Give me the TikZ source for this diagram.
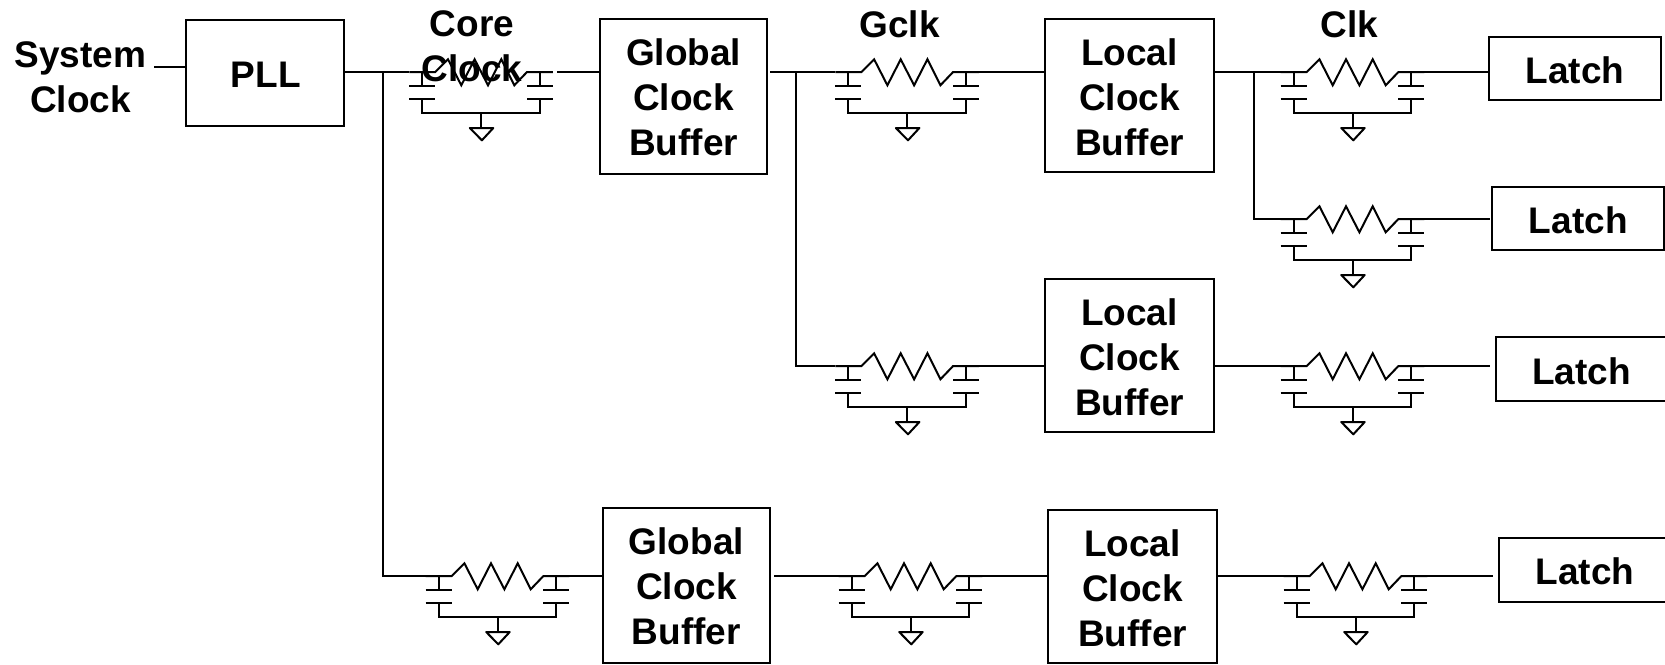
\documentclass[tikz,border=0pt]{standalone}
\usepackage{fontspec}
\setmainfont{Liberation Sans}
\tikzset{
  x=0.75pt,y=-0.75pt,
  wire/.style={line width=1.5pt,line cap=butt,line join=miter},
  thinwire/.style={line width=1pt},
  label text/.style={font=\bfseries\fontsize{27.75}{33.75}\selectfont,align=center,inner sep=0pt,outer sep=0pt},
  boxnode/.style={draw,line width=1.5pt,inner sep=0pt,outer sep=0pt},
  bigbox/.style={boxnode,minimum width=125.4pt,minimum height=115pt},
  localbox/.style={boxnode,minimum width=126.8pt,minimum height=115pt},
  latchbox/.style={boxnode,minimum width=129pt,minimum height=47.3pt},
  rcnet/.pic={
    \draw[wire] (0,0)--(26,0)--(38.7,-12.7)--(52,13.3)--(65.3,-12.7)--(78.7,13.3)--(92,-12.7)--(105,13.3)--(117.7,0)--(143.6,0);
    \draw[wire] (0,13.7)--(26,13.7) (0,27)--(26,27) (117.7,13.7)--(143.6,13.7) (117.7,27)--(143.6,27);
    \draw[wire] (13,0)--(13,13.7) (130.6,0)--(130.6,13.7);
    \draw[wire] (13,27)--(13,41)--(130.6,41)--(130.6,27);
    \draw[wire] (72,41)--(72,56);
    \draw[wire,line join=round] (60.5,56)--(84,56)--(72.6,68.3)--cycle;
    \coordinate (-in) at (0,0);
    \coordinate (-out) at (143.6,0);
  }
}
\begin{document}
\begin{tikzpicture}
\useasboundingbox (0,0) rectangle (1665,664);
\clip (0,0) rectangle (1665,664);

% RC networks
\pic (r1) at (409.3,72) {rcnet};
\pic (r2) at (835.4,72) {rcnet};
\pic (r3) at (1280.7,72) {rcnet};
\pic (r4) at (1280.7,219) {rcnet};
\pic (r5) at (835.4,366) {rcnet};
\pic (r6) at (1280.7,366) {rcnet};
\pic (r7) at (425.7,576) {rcnet};
\pic (r8) at (838.7,576) {rcnet};
\pic (r9) at (1283.7,576) {rcnet};

% Boxes
\node[boxnode,minimum width=118.3pt,minimum height=80pt,label={[label text,yshift=-1.5pt,xshift=0.3pt]center:PLL}] (pll) at (265.3,73) {};
\node[bigbox,minimum height=116.2pt,label={[label text]center:Global\\Clock\\Buffer}] (gb1) at (683.6,96.8) {};
\node[localbox,label={[label text,yshift=-1.5pt]center:Local\\Clock\\Buffer}] (lb1) at (1129.5,95.6) {};
\node[localbox,label={[label text,yshift=-1.5pt]center:Local\\Clock\\Buffer}] (lb2) at (1129.5,355.3) {};
\node[bigbox,minimum height=116.5pt,label={[label text,yshift=-0.7pt]center:Global\\Clock\\Buffer}] (gb2) at (686.4,585.3) {};
\node[localbox,label={[label text,yshift=-1.2pt]center:Local\\Clock\\Buffer}] (lb3) at (1132.5,586.3) {};
\node[latchbox,label={[label text,yshift=-1.5pt]center:Latch}] (la1) at (1575,68.4) {};
\node[latchbox,label={[label text,yshift=-0.8pt]center:Latch}] (la2) at (1578.3,218.8) {};
\node[latchbox,label={[label text,yshift=-1.5pt]center:Latch}] (la3) at (1581.7,369) {};
\node[latchbox,label={[label text,yshift=-1.2pt]center:Latch}] (la4) at (1585,570) {};

% Free ends and junctions
\coordinate (sw) at (154,67);
\coordinate (c1) at (557,72);
\coordinate (c2) at (770,72);
\coordinate (c3) at (1489.7,219);
\coordinate (c4) at (1489.7,366);
\coordinate (c5) at (774,576);
\coordinate (c6) at (1493,576);
\coordinate (j1) at (382.7,72);
\coordinate (j2) at (796,72);
\coordinate (j3) at (1254,72);

% Connectors
\draw[thinwire] (sw) -- (sw -| pll.west);
\draw[wire] (r1-in -| pll.east) -- (r1-in);
\draw[wire] (j1) -- (j1 |- r7-in) -- (r7-in);
\draw[wire] (c1) -- (c1 -| gb1.west);
\draw[wire] (c2) -- (r2-in);
\draw[wire] (j2) -- (j2 |- r5-in) -- (r5-in);
\draw[wire] (r2-out) -- (r2-out -| lb1.west);
\draw[wire] (r3-in -| lb1.east) -- (r3-in);
\draw[wire] (j3) -- (j3 |- r4-in) -- (r4-in);
\draw[wire] (r3-out) -- (r3-out -| la1.west);
\draw[wire] (r4-out) -- (c3);
\draw[wire] (r5-out) -- (r5-out -| lb2.west);
\draw[wire] (r6-in -| lb2.east) -- (r6-in);
\draw[wire] (r6-out) -- (c4);
\draw[wire] (r7-out) -- (r7-out -| gb2.west);
\draw[wire] (c5) -- (r8-in);
\draw[wire] (r8-out) -- (r8-out -| lb3.west);
\draw[wire] (r9-in -| lb3.east) -- (r9-in);
\draw[wire] (r9-out) -- (c6);

% Labels
\node[label text] (sys) at (80.5,77.5) {System\\Clock};
\node[label text] (core) at (472,46.5) {Core\\Clock};
\node[label text] (gclk) at (899.5,24.3) {Gclk};
\node[label text] (clk) at (1349.5,24.3) {Clk};
\end{tikzpicture}
\end{document}
